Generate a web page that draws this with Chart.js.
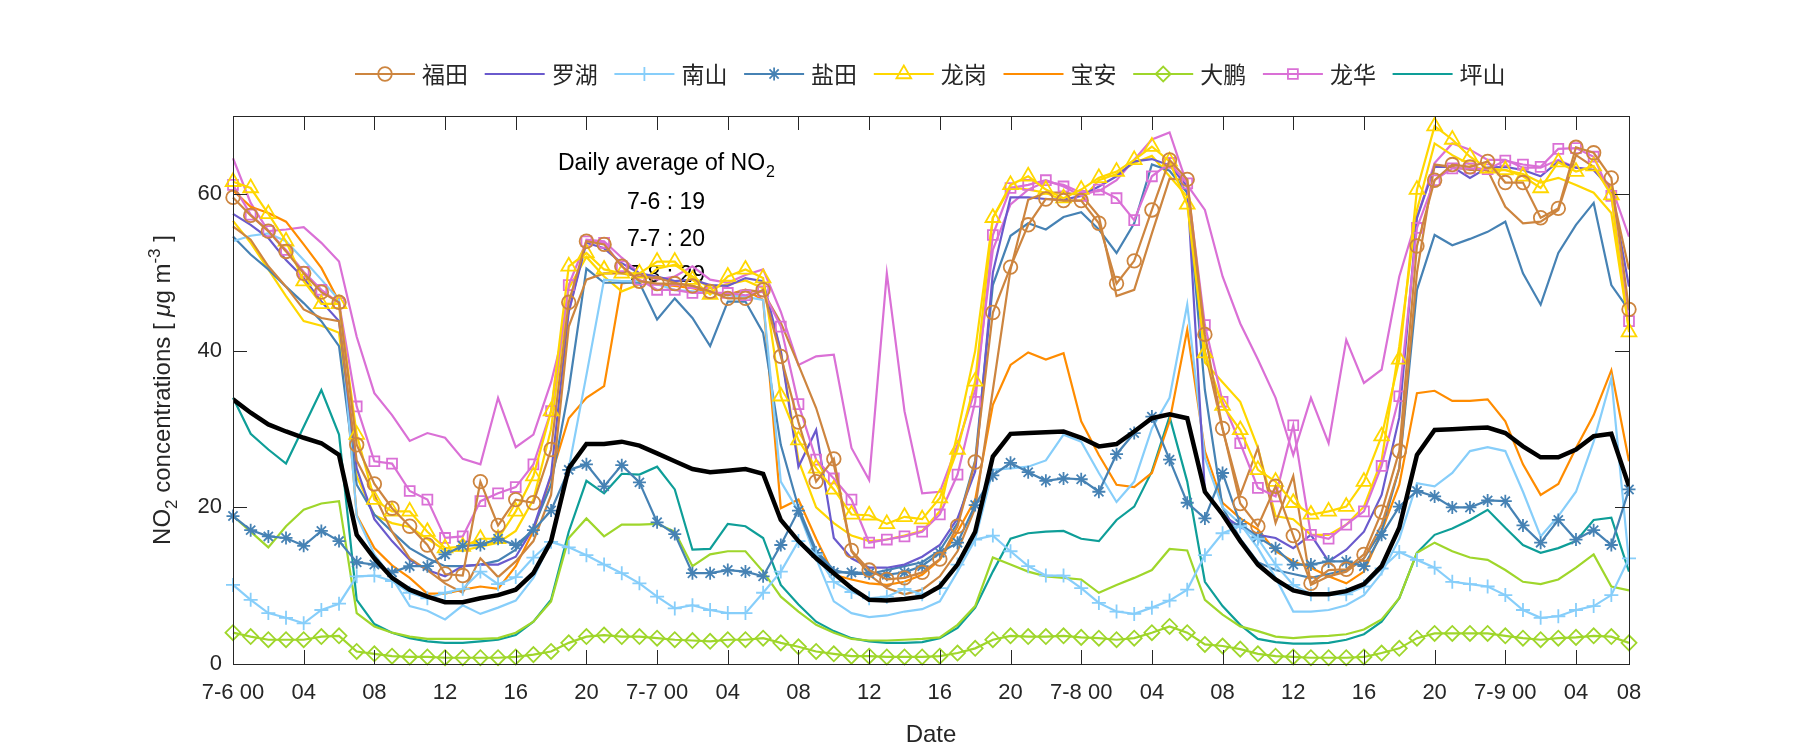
<!DOCTYPE html>
<html>
<head>
<meta charset="utf-8">
<title>NO2 concentrations by district</title>
<script src="https://cdn.jsdelivr.net/npm/chart.js@4.4.1/dist/chart.umd.min.js"></script>
<style>
  html, body { margin: 0; padding: 0; background: #fff; }
  #wrap { width: 1800px; height: 750px; }
</style>
</head>
<body>
<div id="wrap"><canvas id="no2Chart" width="1800" height="750"></canvas></div>
<script>
// Hourly NO2 by station, 7-6 00:00 .. 7-9 07:00, plus the city average (black)

/* ---------- Axis categories / tick labels ---------- */

const HOURS = Array.from({ length: 80 }, (_, i) => i); // hour index since 7-6 00
const TICK_POS = [0, 4, 8, 12, 16, 20, 24, 28, 32, 36, 40, 44, 48, 52, 56, 60, 64, 68, 72, 76, 79];
const TICK_TEXT = ["7-6 00", "04", "08", "12", "16", "20", "7-7 00", "04", "08", "12", "16", "20",
  "7-8 00", "04", "08", "12", "16", "20", "7-9 00", "04", "08"];
const Y_TICKS = [0, 20, 40, 60];

const DISTRICTS = ["福田", "罗湖", "南山", "盐田", "龙岗", "宝安", "大鹏", "龙华", "坪山"];
const DAILY_AVG_LABELS = ["7-6 : 19", "7-7 : 20", "7-8 : 29"];

/* ---------- Series (µg/m3) ---------- */

const futian1 = [
  59.6, 57.3, 55.3, 52.7, 49.9, 47.5, 46.2,
  28.0, 23.0, 19.9, 17.6, 15.2, 11.5, 11.3, 23.3, 17.7, 21.0, 20.6, 27.4,
  46.2, 54.0, 53.6, 50.8, 48.9, 48.6, 48.6, 48.3, 47.6, 46.7, 46.7, 47.8,
  39.3, 30.9, 23.3, 26.2, 14.5, 12.0, 10.8, 11.0, 11.7, 13.4, 17.6, 25.8,
  44.9, 50.7, 56.1, 59.4, 59.2, 59.2, 56.3, 48.6, 51.5, 58.0, 64.4, 61.9,
  42.1, 30.1, 20.5, 17.6, 22.7, 16.4, 10.3, 12.0, 12.1, 14.0, 19.4, 27.2,
  53.4, 61.8, 63.8, 63.5, 64.2, 61.5, 61.5, 57.0, 58.2, 66.0, 65.3, 62.1, 45.3
];
const futian2 = [
  55.9, 54.2, 50.8, 48.2, 45.3, 44.2, 43.8,
  26.0, 21.6, 16.9, 13.5, 12.0, 10.3, 9.1, 13.5, 11.1, 13.1, 15.7, 21.6,
  43.1, 49.1, 49.9, 49.9, 49.5, 49.3, 48.7, 48.3, 47.6, 47.1, 47.8, 47.5,
  43.6, 38.2, 32.7, 25.5, 14.4, 11.4, 9.7, 8.9, 9.5, 11.2, 14.4, 19.9,
  35.0, 50.4, 59.3, 60.2, 60.2, 59.9, 57.2, 47.0, 47.8, 55.0, 62.0, 61.8,
  40.0, 30.0, 21.6, 27.6, 18.0, 24.0, 10.1, 11.2, 11.8, 13.5, 17.8, 25.0,
  50.0, 63.8, 63.5, 63.1, 63.1, 58.4, 56.3, 56.5, 58.0, 65.0, 63.5, 60.6, 50.4
];
const luohu = [
  57.5, 56.1, 54.4, 51.6, 49.3, 46.3, 43.8,
  25.0, 18.5, 15.7, 13.3, 12.0, 11.2, 12.5, 12.7, 12.7, 13.7, 17.4, 24.2,
  45.0, 53.8, 53.1, 51.2, 49.9, 49.5, 48.9, 49.1, 48.4, 48.3, 49.3, 48.9,
  40.0, 25.2, 29.9, 16.1, 13.5, 12.3, 12.3, 12.7, 13.7, 15.2, 18.6, 24.6,
  50.0, 59.6, 59.6, 59.4, 59.3, 59.8, 61.0, 62.3, 64.2, 64.5, 63.7, 61.0,
  22.0, 19.0, 17.5, 16.5, 16.1, 14.8, 16.5, 13.1, 14.6, 16.9, 21.6, 31.5,
  57.0, 63.5, 63.5, 62.1, 63.4, 63.5, 63.1, 62.3, 64.2, 63.4, 63.1, 60.6, 48.2
];
const nanshan1 = [
  10.1, 8.2, 6.5, 5.9, 5.2, 6.9, 7.7,
  11.2, 11.3, 10.6, 9.1, 8.4, 9.1, 9.6, 11.8, 10.2, 11.1, 13.6, 15.6,
  14.9, 13.9, 12.7, 11.6, 10.3, 8.6, 7.1, 7.5, 6.9, 6.5, 6.5, 9.1,
  11.8, 15.7, 14.0, 10.5, 9.2, 8.4, 8.6, 9.6, 8.9, 9.7, 12.7, 15.9,
  16.4, 14.4, 12.5, 11.3, 11.3, 9.7, 7.8, 6.7, 6.4, 7.2, 8.1, 9.5,
  13.9, 16.7, 17.6, 16.0, 12.7, 10.1, 8.9, 8.9, 8.9, 9.9, 12.2, 14.3,
  13.3, 12.3, 10.5, 10.2, 9.9, 8.8, 6.9, 5.9, 6.1, 6.9, 7.4, 8.8, 13.5
];
const nanshan2 = [
  54.0, 54.7, 55.0, 54.0, 51.6, 49.1, 46.5,
  18.9, 14.0, 11.0, 7.4, 6.8, 5.7, 7.5, 6.4, 7.2, 8.1, 11.0, 15.7,
  25.0, 36.9, 49.1, 48.9, 48.9, 48.5, 47.8, 47.6, 47.4, 47.1, 46.9, 46.5,
  23.3, 19.5, 13.5, 8.0, 6.5, 6.0, 6.2, 6.7, 7.0, 8.0, 11.8, 15.9,
  24.8, 25.0, 25.2, 26.0, 29.3, 28.4, 24.4, 20.7, 23.3, 30.1, 34.0, 45.9,
  26.3, 20.0, 17.9, 14.8, 11.0, 6.7, 6.7, 6.9, 7.5, 8.8, 11.6, 16.0,
  23.1, 22.7, 24.4, 27.2, 27.7, 27.2, 22.0, 16.3, 18.9, 22.0, 28.4, 36.5, 13.0
];
const yantian1 = [
  18.9, 17.1, 16.3, 16.1, 15.1, 17.0, 15.7,
  13.0, 12.7, 11.7, 12.5, 12.5, 14.0, 15.1, 15.2, 16.0, 15.2, 17.1, 19.6,
  24.8, 25.5, 22.7, 25.4, 23.2, 18.1, 16.6, 11.6, 11.6, 12.0, 11.8, 11.2,
  15.2, 19.6, 14.2, 11.7, 11.7, 11.6, 11.4, 11.7, 12.5, 14.2, 15.5, 20.3,
  24.1, 25.7, 24.5, 23.4, 23.7, 23.6, 22.0, 26.8, 29.5, 31.6, 26.1, 20.6,
  18.6, 24.4, 17.9, 16.2, 14.8, 12.7, 12.7, 13.1, 13.1, 12.5, 16.5, 20.1,
  22.1, 21.4, 20.0, 20.0, 20.9, 20.8, 17.7, 15.5, 18.4, 15.9, 17.1, 15.2, 22.3
];
const yantian2 = [
  54.6, 52.3, 50.4, 48.2, 46.1, 43.8, 40.6,
  22.9, 19.1, 16.9, 14.8, 13.5, 12.5, 12.5, 12.7, 13.2, 14.6, 17.4, 22.9,
  35.0, 50.5, 48.7, 48.7, 48.7, 44.0, 46.7, 44.2, 40.6, 46.3, 46.3, 42.3,
  28.0, 20.0, 14.5, 12.0, 11.5, 11.5, 12.0, 12.5, 13.0, 14.5, 18.0, 26.0,
  48.4, 54.7, 56.3, 55.5, 57.1, 57.7, 55.5, 52.5, 56.3, 63.8, 63.0, 60.2,
  35.0, 20.0, 16.0, 13.0, 12.0, 11.5, 11.0, 11.5, 12.0, 13.5, 17.0, 25.0,
  47.8, 54.8, 53.5, 54.3, 55.2, 56.5, 49.9, 45.9, 52.5, 56.1, 58.9, 48.4, 45.2
];
const longgang1 = [
  61.6, 60.8, 57.5, 54.0, 48.9, 46.0, 46.0,
  29.3, 21.0, 19.5, 19.5, 16.9, 14.8, 15.0, 16.0, 16.0, 19.5, 24.0, 32.3,
  50.8, 52.5, 50.4, 49.9, 49.9, 51.4, 51.4, 49.1, 47.2, 49.5, 50.4, 49.3,
  34.2, 28.6, 25.0, 22.3, 19.1, 19.0, 17.9, 18.8, 18.5, 21.2, 27.4, 36.1,
  57.0, 61.2, 62.3, 60.6, 59.5, 60.6, 62.1, 62.9, 64.4, 66.1, 64.2, 58.7,
  39.7, 33.0, 29.9, 24.8, 23.3, 20.6, 19.1, 19.5, 20.1, 23.3, 29.1, 38.9,
  60.6, 68.7, 67.0, 64.8, 63.3, 63.1, 62.3, 60.8, 64.1, 62.9, 63.6, 59.9, 42.4
];
const longgang2 = [
  56.6, 53.8, 50.4, 47.0, 43.8, 43.2, 42.3,
  24.0, 19.0, 18.0, 17.5, 16.0, 14.5, 14.5, 15.0, 15.5, 17.0, 21.0, 30.0,
  48.0, 52.0, 49.5, 47.6, 48.5, 50.5, 51.0, 49.5, 48.0, 48.5, 49.0, 48.0,
  40.0, 26.0, 20.0, 18.0, 16.4, 15.7, 15.9, 16.4, 17.0, 19.5, 29.5, 40.0,
  57.0, 60.9, 60.6, 60.2, 59.2, 59.2, 61.8, 62.6, 64.0, 64.9, 62.3, 59.7,
  38.5, 36.0, 33.5, 27.6, 18.9, 18.5, 16.5, 16.5, 17.8, 20.1, 26.0, 40.6,
  58.0, 66.5, 65.0, 63.8, 62.9, 63.1, 62.6, 61.5, 62.1, 61.2, 60.2, 57.6, 42.7
];
const baoan = [
  60.5, 58.4, 57.6, 56.5, 53.6, 50.6, 46.3,
  19.0, 14.8, 12.6, 11.0, 9.0, 9.0, 9.5, 9.9, 9.6, 12.5, 17.0, 24.0,
  31.4, 34.0, 35.5, 48.6, 48.9, 48.5, 48.3, 48.0, 47.5, 47.2, 47.8, 46.5,
  19.9, 21.0, 16.0, 11.4, 10.8, 10.3, 10.1, 10.5, 11.4, 13.3, 16.9, 21.0,
  33.1, 38.2, 39.8, 38.9, 39.7, 31.0, 26.7, 22.9, 22.6, 24.4, 31.0, 42.7,
  27.2, 20.6, 18.6, 17.2, 14.4, 13.1, 12.3, 11.2, 10.3, 11.8, 16.9, 22.9,
  34.6, 34.9, 33.6, 33.6, 33.8, 31.0, 25.5, 21.6, 23.0, 27.6, 31.8, 37.5, 25.9
];
const dapeng1 = [
  4.0, 3.5, 3.1, 3.1, 3.1, 3.5, 3.6,
  1.6, 1.3, 1.0, 0.9, 0.9, 0.8, 0.8, 0.8, 0.8, 0.9, 1.2, 1.6,
  2.7, 3.5, 3.7, 3.5, 3.5, 3.3, 3.1, 3.0, 2.9, 3.1, 3.1, 3.3,
  2.7, 2.2, 1.6, 1.3, 1.0, 1.0, 0.9, 0.9, 0.9, 1.0, 1.4, 2.0,
  3.1, 3.6, 3.5, 3.5, 3.6, 3.4, 3.3, 3.1, 3.3, 4.0, 4.8, 4.0,
  2.5, 2.3, 1.9, 1.3, 1.0, 0.9, 0.8, 0.8, 0.8, 0.9, 1.4, 2.0,
  3.3, 3.9, 3.9, 3.9, 3.9, 3.6, 3.3, 3.1, 3.3, 3.4, 3.6, 3.5, 2.7
];
const dapeng2 = [
  18.9, 16.9, 14.9, 17.6, 19.7, 20.5, 20.8,
  6.5, 4.8, 4.0, 3.5, 3.2, 3.2, 3.2, 3.2, 3.3, 4.0, 5.4, 8.0,
  16.1, 18.6, 16.3, 17.8, 17.8, 17.9, 16.9, 12.5, 14.0, 14.4, 14.4, 11.8,
  8.6, 6.7, 5.0, 4.0, 3.2, 3.0, 3.0, 3.1, 3.2, 3.4, 5.0, 7.4,
  13.6, 12.7, 11.8, 11.2, 11.0, 10.8, 9.1, 10.1, 11.0, 12.0, 14.7, 14.5,
  8.2, 6.3, 4.8, 4.2, 3.5, 3.3, 3.5, 3.6, 3.8, 4.4, 5.7, 8.4,
  14.2, 15.5, 14.4, 13.6, 13.3, 12.0, 10.5, 10.2, 10.8, 12.3, 14.0, 9.9, 9.4
];
const longhua1 = [
  61.2, 57.4, 55.3, 52.9, 50.1, 47.8, 46.1,
  32.9, 25.9, 25.6, 22.1, 21.0, 16.1, 16.3, 20.8, 21.8, 22.6, 25.5, 32.3,
  48.4, 54.0, 53.8, 50.8, 49.1, 47.8, 47.8, 47.4, 47.4, 47.4, 47.1, 47.6,
  43.1, 33.2, 26.1, 23.7, 21.0, 15.5, 15.9, 16.3, 16.9, 19.1, 24.2, 33.5,
  54.8, 60.8, 61.2, 61.8, 61.0, 59.8, 60.6, 59.5, 56.7, 62.3, 64.0, 61.4,
  43.3, 33.5, 28.2, 22.5, 21.4, 30.5, 16.5, 16.0, 17.8, 19.5, 25.3, 34.2,
  55.7, 61.8, 63.3, 63.3, 63.2, 64.3, 63.8, 63.5, 65.8, 65.9, 64.8, 59.8, 43.8
];
const longhua2 = [
  64.6, 58.9, 55.3, 55.5, 55.8, 53.8, 51.4,
  41.8, 34.6, 31.8, 28.5, 29.5, 28.9, 26.2, 25.5, 34.0, 27.7, 29.3, 36.0,
  45.0, 54.2, 54.0, 51.9, 49.9, 49.1, 49.5, 50.8, 49.1, 48.7, 49.7, 50.4,
  45.0, 38.2, 39.3, 39.5, 27.6, 23.5, 49.9, 32.3, 21.8, 22.0, 28.0, 35.0,
  52.9, 58.7, 60.6, 61.6, 61.2, 60.2, 60.4, 61.8, 64.4, 67.0, 67.9, 61.2,
  58.0, 49.5, 43.5, 38.9, 34.0, 26.7, 34.0, 28.2, 41.4, 35.9, 37.6, 49.5,
  57.0, 64.0, 66.5, 65.7, 64.4, 64.4, 63.4, 63.4, 64.4, 63.4, 63.1, 61.0, 54.6
];
const pingshan = [
  34.0, 29.4, 27.4, 25.6, 30.3, 35.0, 29.3,
  8.2, 5.1, 4.0, 3.3, 2.9, 2.7, 2.7, 2.9, 3.1, 3.7, 5.4, 8.2,
  16.9, 23.4, 21.8, 24.3, 24.2, 25.2, 22.3, 14.6, 14.7, 17.9, 17.6, 16.1,
  10.1, 7.6, 5.4, 4.2, 3.3, 2.9, 2.7, 2.7, 2.8, 3.3, 4.6, 7.2,
  11.8, 16.0, 16.7, 16.9, 17.0, 16.0, 15.7, 18.4, 20.1, 24.6, 31.6, 23.3,
  10.5, 7.4, 5.0, 3.2, 2.8, 2.6, 2.6, 2.7, 3.1, 3.8, 5.4, 8.4,
  14.2, 16.5, 17.3, 18.4, 19.7, 17.4, 15.2, 14.2, 14.8, 15.7, 18.4, 18.7, 11.8
];
const cityAverage = [
  33.8, 32.1, 30.6, 29.7, 28.9, 28.2, 26.7,
  16.5, 13.5, 11.0, 9.5, 8.6, 7.9, 7.9, 8.4, 8.8, 9.5, 11.6, 15.7,
  25.0, 28.1, 28.1, 28.4, 27.9, 26.9, 25.9, 24.9, 24.5, 24.7, 24.9, 24.3,
  18.4, 15.7, 13.5, 11.6, 9.7, 8.2, 8.1, 8.3, 8.6, 9.9, 12.7, 16.9,
  26.5, 29.4, 29.5, 29.6, 29.7, 28.9, 27.8, 28.1, 29.7, 31.4, 31.9, 31.4,
  22.0, 19.1, 15.7, 12.7, 10.8, 9.4, 8.9, 8.9, 9.3, 10.2, 12.5, 17.4,
  26.7, 29.9, 30.0, 30.1, 30.2, 29.5, 27.8, 26.4, 26.4, 27.4, 29.1, 29.4, 22.7
];

/* ---------- Styling ---------- */

const COLORS = ["#CD853F", "#6A5ACD", "#87CEFA", "#4682B4", "#FFD700", "#FF8C00", "#9FD62B", "#DA70D6", "#0E9E98"];
const MARKERS = ["circle", null, "cross", "star", "triangle", null, "rectRot", "rect", null];
const MARKER_R = { circle: 6.8, cross: 7, star: 6.5, triangle: 8.5, rectRot: 7.5, rect: 7 };

const FONT = "'Liberation Sans', Arial, sans-serif";
const CJK = "'Noto Sans CJK SC', sans-serif";
const INK = "#262626";

// [district index, values, with marker]
const STATIONS = [
  [0, futian2, false], [1, luohu, false], [2, nanshan2, false], [3, yantian2, false],
  [4, longgang2, false], [5, baoan, false], [6, dapeng2, false], [7, longhua2, false],
  [8, pingshan, false],
  [0, futian1, true], [2, nanshan1, true], [3, yantian1, true], [4, longgang1, true],
  [6, dapeng1, true], [7, longhua1, true]
];

function stationDataset([d, values, marked]) {
  const style = marked ? MARKERS[d] : null;
  return {
    label: DISTRICTS[d],
    data: values,
    borderColor: COLORS[d],
    borderWidth: 2.2,
    tension: 0,
    pointStyle: style || "circle",
    pointRadius: style ? MARKER_R[style] : 0,
    pointBorderWidth: 1.8,
    pointBorderColor: COLORS[d],
    pointBackgroundColor: "rgba(0,0,0,0)",
    clip: 10,
    order: marked ? 1 : 2
  };
}

/* ---------- Extra drawing: MATLAB-like box, inward ticks, titles, legend ---------- */

const matlabDecor = {
  id: "matlabDecor",
  beforeDatasetsDraw(chart) {
    // "Daily average" note sits under the lines
    const { ctx } = chart;
    const cx = 666;
    ctx.save();
    ctx.fillStyle = "#000";
    ctx.textBaseline = "alphabetic";
    ctx.font = `23px ${FONT}`;
    const head = "Daily average of NO";
    const wHead = ctx.measureText(head).width;
    ctx.font = `16px ${FONT}`;
    const wSub = ctx.measureText("2").width;
    const x0 = cx - (wHead + wSub) / 2;
    ctx.textAlign = "left";
    ctx.font = `23px ${FONT}`;
    ctx.fillText(head, x0, 170);
    ctx.font = `16px ${FONT}`;
    ctx.fillText("2", x0 + wHead + 1, 177);
    ctx.font = `23px ${FONT}`;
    ctx.textAlign = "center";
    DAILY_AVG_LABELS.forEach((t, i) => ctx.fillText(t, cx, 209 + i * 36.5));
    ctx.restore();
  },
  afterDraw(chart) {
    const { ctx, chartArea: a, scales: { x, y } } = chart;
    ctx.save();

    // box + inward ticks
    ctx.strokeStyle = INK;
    ctx.lineWidth = 1;
    ctx.strokeRect(a.left + 0.5, a.top + 0.5, a.right - a.left, a.bottom - a.top);
    const tl = 14;
    ctx.beginPath();
    TICK_POS.forEach((v) => {
      const px = Math.round(x.getPixelForValue(v)) + 0.5;
      ctx.moveTo(px, a.bottom); ctx.lineTo(px, a.bottom - tl);
      ctx.moveTo(px, a.top); ctx.lineTo(px, a.top + tl);
    });
    Y_TICKS.forEach((v) => {
      const py = Math.round(y.getPixelForValue(v)) + 0.5;
      ctx.moveTo(a.left, py); ctx.lineTo(a.left + tl, py);
      ctx.moveTo(a.right, py); ctx.lineTo(a.right - tl, py);
    });
    ctx.stroke();

    // x title
    ctx.fillStyle = INK;
    ctx.font = `24px ${FONT}`;
    ctx.textAlign = "center";
    ctx.textBaseline = "alphabetic";
    ctx.fillText("Date", (a.left + a.right) / 2, 742);

    // y title with sub/superscripts
    const parts = [
      { t: "NO", f: `24px ${FONT}`, dy: 0 },
      { t: "2", f: `17px ${FONT}`, dy: 7 },
      { t: " concentrations [ ", f: `24px ${FONT}`, dy: 0 },
      { t: "μ", f: `italic 24px ${FONT}`, dy: 0 },
      { t: "g m", f: `24px ${FONT}`, dy: 0 },
      { t: "-3", f: `17px ${FONT}`, dy: -10 },
      { t: " ]", f: `24px ${FONT}`, dy: 0 }
    ];
    let total = 0;
    parts.forEach((p) => { ctx.font = p.f; p.w = ctx.measureText(p.t).width; total += p.w; });
    ctx.translate(170, (a.top + a.bottom) / 2);
    ctx.rotate(-Math.PI / 2);
    ctx.textAlign = "left";
    let px = -total / 2;
    parts.forEach((p) => { ctx.font = p.f; ctx.fillText(p.t, px, p.dy); px += p.w; });
    ctx.setTransform(1, 0, 0, 1, 0, 0);

    // legend row
    const ly = 74, step = 129.7, startX = 355;
    DISTRICTS.forEach((name, i) => {
      const lx = startX + i * step;
      ctx.strokeStyle = COLORS[i];
      ctx.lineWidth = 2.2;
      ctx.beginPath();
      ctx.moveTo(lx, ly); ctx.lineTo(lx + 60, ly);
      ctx.stroke();
      if (MARKERS[i]) {
        ctx.lineWidth = 1.8;
        ctx.fillStyle = "rgba(0,0,0,0)";
        Chart.helpers.drawPoint(ctx, { pointStyle: MARKERS[i], radius: MARKER_R[MARKERS[i]], rotation: 0, borderWidth: 1.8 }, lx + 30, ly);
      }
      ctx.fillStyle = INK;
      ctx.font = `23px ${CJK}`;
      ctx.textAlign = "left";
      ctx.textBaseline = "middle";
      ctx.fillText(name, lx + 67, ly);
    });
    ctx.restore();
  }
};

/* ---------- Chart ---------- */

const datasets = [
  {
    label: "Average",
    data: cityAverage,
    borderColor: "#000000",
    borderWidth: 4.5,
    tension: 0,
    pointRadius: 0,
    order: 0
  },
  ...STATIONS.map(stationDataset)
];

new Chart(document.getElementById("no2Chart").getContext("2d"), {
  type: "line",
  data: { labels: HOURS, datasets },
  options: {
    responsive: false,
    animation: false,
    devicePixelRatio: 1,
    layout: { padding: { left: 0, top: 116, right: 171, bottom: 0 } },
    plugins: {
      legend: { display: false },
      tooltip: { enabled: false }
    },
    scales: {
      x: {
        type: "linear",
        min: 0,
        max: 79,
        grid: { display: false, drawTicks: false },
        border: { display: false },
        afterBuildTicks: (s) => { s.ticks = TICK_POS.map((v) => ({ value: v })); },
        afterFit: (s) => { s.height = 86; },
        ticks: {
          autoSkip: false,
          maxRotation: 0,
          padding: 16,
          color: INK,
          font: { family: FONT, size: 22 },
          callback: (v) => TICK_TEXT[TICK_POS.indexOf(v)]
        }
      },
      y: {
        min: 0,
        max: 70,
        grid: { display: false, drawTicks: false },
        border: { display: false },
        afterBuildTicks: (s) => { s.ticks = Y_TICKS.map((v) => ({ value: v })); },
        afterFit: (s) => { s.width = 233; },
        ticks: {
          padding: 11,
          color: INK,
          font: { family: FONT, size: 22 }
        }
      }
    }
  },
  plugins: [matlabDecor]
});
</script>
</body>
</html>
